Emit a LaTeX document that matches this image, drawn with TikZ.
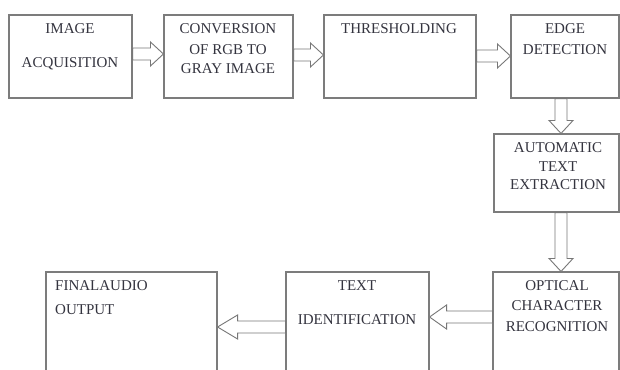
\documentclass[tikz,border=0pt]{standalone}
\usepackage{fontspec}
\setmainfont{Liberation Serif}
\usetikzlibrary{calc}
\definecolor{textc}{HTML}{34343F}
\definecolor{linec}{HTML}{7C7C7C}
\definecolor{arrc}{HTML}{777777}
\def\hshaft{6pt}\def\hhead{12pt}\def\hlen{13pt}
\tikzset{
  box/.style={draw=linec, line width=1.1pt, rectangle, inner sep=0pt, fill=white},
  lbl/.style={text=textc, font=\fontsize{15}{18}\selectfont, inner sep=0pt, text height=10pt, text depth=0pt},
  hlength/.code={\def\hlen{#1}},
  hollow/.style={draw=arrc, fill=white, line width=0.9pt, line join=miter,
    to path={
      (\tikztostart) coordinate (hs)
      (\tikztotarget) coordinate (ht)
      ($(ht)!\hlen!(hs)$) coordinate (hb)
      ($(hs)!\hshaft!90:(ht)$) -- ($(hb)!\hshaft!90:(ht)$) -- ($(hb)!\hhead!90:(ht)$)
      -- (ht) -- ($(hb)!\hhead!-90:(ht)$) -- ($(hb)!\hshaft!-90:(ht)$)
      -- ($(hs)!\hshaft!-90:(ht)$) -- cycle}}
}
\begin{document}
\begin{tikzpicture}[x=1pt,y=-1pt]
\clip (0,0) rectangle (620,369);
\fill[white] (0,0) rectangle (620,369);
% boxes
\node[box, minimum width=123pt, minimum height=83pt] (b1) at (70.5,56.5) {};
\node[box, minimum width=129pt, minimum height=83pt] (b2) at (228.5,56.5) {};
\node[box, minimum width=152pt, minimum height=83pt] (b3) at (400,56.5) {};
\node[box, minimum width=108pt, minimum height=83pt] (b4) at (565,56.5) {};
\node[box, minimum width=125pt, minimum height=78pt] (b5) at (556.5,173) {};
\node[box, minimum width=126pt, minimum height=128pt] (b6) at (556,336) {};
\node[box, minimum width=143pt, minimum height=128pt] (b7) at (357.5,336) {};
\node[box, minimum width=171pt, minimum height=128pt] (b8) at (131.5,336) {};
% labels
\node[lbl] (t1a) at (70,29) {IMAGE};
\node[lbl] (t1b) at (70,62) {ACQUISITION};
\node[lbl] (t2a) at (228,29) {CONVERSION};
\node[lbl] (t2b) at (228,49) {OF RGB TO};
\node[lbl] (t2c) at (228,69) {GRAY IMAGE};
\node[lbl] (t3a) at (399,29) {THRESHOLDING};
\node[lbl] (t4a) at (565,29) {EDGE};
\node[lbl] (t4b) at (565,50) {DETECTION};
\node[lbl] (t5a) at (558,147) {AUTOMATIC};
\node[lbl] (t5b) at (558,166) {TEXT};
\node[lbl] (t5c) at (558,184) {EXTRACTION};
\node[lbl] (t6a) at (557,285) {OPTICAL};
\node[lbl] (t6b) at (557,305) {CHARACTER};
\node[lbl] (t6c) at (557,326) {RECOGNITION};
\node[lbl] (t7a) at (357,285) {TEXT};
\node[lbl] (t7b) at (357,319) {IDENTIFICATION};
\node[lbl, anchor=west] (t8a) at (55,285) {FINALAUDIO};
\node[lbl, anchor=west] (t8b) at (55,309) {OUTPUT};
% connector rows/columns
\coordinate (r1) at (0,54);
\coordinate (r2) at (0,55);
\coordinate (r3) at (0,56);
\coordinate (c1) at (561,0);
\coordinate (r6) at (0,317);
\coordinate (r7) at (0,327);
% arrows
\draw[hollow] (b1.east |- r1) to (b2.west |- r1);
\draw[hollow] (b2.east |- r2) to (b3.west |- r2);
\draw[hollow] (b3.east |- r3) to (b4.west |- r3);
\draw[hollow] (b4.south -| c1) to (b5.north -| c1);
\draw[hollow] (b5.south -| c1) to (b6.north -| c1);
\draw[hollow, hlength=17pt] (b6.west |- r6) to (b7.east |- r6);
\draw[hollow, hlength=20pt] (b7.west |- r7) to (b8.east |- r7);
\end{tikzpicture}
\end{document}
